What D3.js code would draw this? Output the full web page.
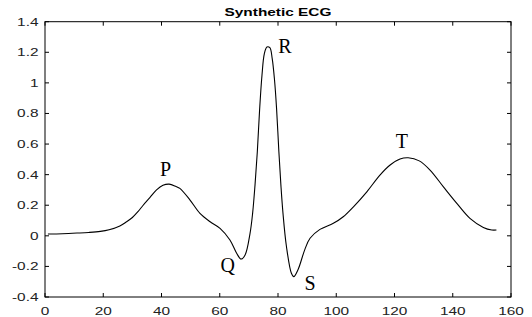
<!DOCTYPE html>
<html><head><meta charset="utf-8">
<script src="https://cdn.jsdelivr.net/npm/d3@7"></script>
<style>html,body{margin:0;padding:0;background:#fff;}</style>
</head><body>
<script>
const sampleX = [1,6,11,15,19,22,25.7,28,30,32,33.7,36,38.3,40.5,42.6,45,46.3,49.8,53.2,56.7,60.1,63.5,65.8,67.3,68.7,70.4,71.3,72.1,72.9,73.7,74.5,75.3,76.2,77.2,78,78.8,79.5,80.3,81,81.7,82.9,84.6,85.4,86.9,89.2,91,94.4,99,102.4,105.9,110.5,115,118.5,121.9,124.7,128.5,132.2,136.8,141.4,145.9,150.5,153.4,155];
const ecgValues = [0.012,0.014,0.018,0.022,0.029,0.040,0.065,0.092,0.12,0.16,0.20,0.25,0.30,0.33,0.338,0.322,0.31,0.234,0.147,0.092,0.049,-0.027,-0.114,-0.152,-0.125,0.016,0.15,0.33,0.55,0.83,1.05,1.19,1.235,1.23,1.16,1.02,0.835,0.55,0.33,0.15,-0.07,-0.245,-0.267,-0.22,-0.09,-0.016,0.042,0.082,0.125,0.19,0.288,0.397,0.463,0.502,0.51,0.49,0.43,0.32,0.212,0.114,0.055,0.038,0.038];
const xTicks = [0,20,40,60,80,100,120,140,160];
const yTicks = [-0.4,-0.2,0,0.2,0.4,0.6,0.8,1,1.2,1.4];
const waveNames = ["P","Q","R","S","T"];
const waveX = [41.4,62.7,82.4,91,122.5];
const waveY = [0.39,-0.239,1.197,-0.354,0.572];
const title = "Synthetic ECG";

const W=532,H=317;
const L=45,R=511,T=21.7,B=297;
const svg=d3.select("body").append("svg").attr("width",W).attr("height",H);
const x=d3.scaleLinear().domain([0,160]).range([L,R]);
const y=d3.scaleLinear().domain([-0.4,1.4]).range([B,T]);
const sx=1.4;

svg.append("rect").attr("x",L).attr("y",T).attr("width",R-L).attr("height",B-T)
  .attr("fill","none").attr("stroke","#000").attr("stroke-width",1);

const tl=4;
const g=svg.append("g").attr("stroke","#000").attr("stroke-width",1);
xTicks.forEach(t=>{
  g.append("line").attr("x1",x(t)).attr("x2",x(t)).attr("y1",B).attr("y2",B-tl);
  g.append("line").attr("x1",x(t)).attr("x2",x(t)).attr("y1",T).attr("y2",T+tl);
});
yTicks.forEach(t=>{
  g.append("line").attr("x1",L).attr("x2",L+tl).attr("y1",y(t)).attr("y2",y(t));
  g.append("line").attr("x1",R).attr("x2",R-tl).attr("y1",y(t)).attr("y2",y(t));
});

const fmt=d=>String(+d.toFixed(1));
xTicks.forEach(t=>{
  svg.append("text").attr("transform",`translate(${x(t)},${314.5}) scale(${sx},1)`)
    .attr("text-anchor","middle").attr("font-family","Liberation Sans, Arial, sans-serif")
    .attr("font-size",11).attr("fill","#222").text(fmt(t));
});
yTicks.forEach(t=>{
  svg.append("text").attr("transform",`translate(${38.5},${y(t)+4}) scale(${sx},1)`)
    .attr("text-anchor","end").attr("font-family","Liberation Sans, Arial, sans-serif")
    .attr("font-size",11).attr("fill","#222").text(fmt(t));
});

svg.append("text").attr("transform",`translate(${(L+R)/2},${15.5}) scale(${sx},1)`)
  .attr("text-anchor","middle").attr("font-family","Liberation Sans, Arial, sans-serif")
  .attr("font-size",11).attr("font-weight","bold").attr("fill","#000").text(title);

const pts=sampleX.map((d,i)=>[d,ecgValues[i]]);
const line=d3.line().x(d=>x(d[0])).y(d=>y(d[1])).curve(d3.curveCatmullRom.alpha(0.5));
svg.append("path").attr("d",line(pts)).attr("fill","none").attr("stroke","#000").attr("stroke-width",1.1);

waveNames.forEach((n,i)=>{
  svg.append("text").attr("x",x(waveX[i])).attr("y",y(waveY[i]))
    .attr("text-anchor","middle").attr("font-family","Liberation Serif, Times New Roman, serif")
    .attr("font-size",20).attr("fill","#000").text(n);
});
</script>
</body></html>
